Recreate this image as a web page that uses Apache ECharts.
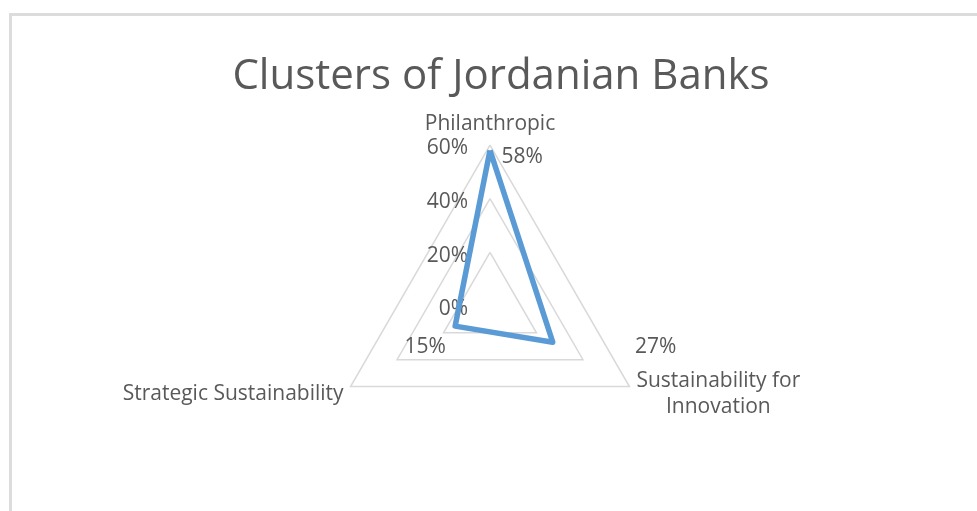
<!DOCTYPE html>
<html>
<head>
<meta charset="utf-8">
<script src="https://cdn.jsdelivr.net/npm/echarts@6/dist/echarts.min.js"></script>
<style>
  html, body { margin: 0; padding: 0; background: #fff; }
  #chart { width: 977px; height: 511px; }
</style>
</head>
<body>
<div id="chart"></div>
<script>
// Cluster shares of Jordanian banks (percent)
const clusters = ['Philanthropic', 'Strategic Sustainability', 'Sustainability for\nInnovation'];
const shares = [58, 15, 27];
const scaleTicks = [0, 20, 40, 60];

// layout of the radar
const FONT = '"Open Sans", Lato, sans-serif';
const TEXT = '#595959';
const LABEL_SIZE = 21;
const CX = 490, CY = 306, R = 161;
const scaleMax = scaleTicks[scaleTicks.length - 1];
const scaleStep = scaleTicks[1] - scaleTicks[0];

// widest line of each cluster name, so multi-line names can be centred
const measureCtx = document.createElement('canvas').getContext('2d');
measureCtx.font = LABEL_SIZE + 'px ' + FONT;
const nameWidth = name => Math.ceil(Math.max.apply(null,
  name.split('\n').map(s => measureCtx.measureText(s).width)));

// where each value label sits relative to its vertex
const labelPlacement = [
  { position: 'right', distance: 11, offset: [0, 7] },
  { position: 'inside', offset: [-30, 21] },
  { position: 'inside', offset: [103, 5] }
];

const chart = echarts.init(document.getElementById('chart'), null, { renderer: 'canvas' });

const labelItems = clusters.map((c, k) => ({
  value: shares,
  symbol: 'circle',
  symbolSize: 1,
  itemStyle: { color: 'rgba(0,0,0,0)' },
  lineStyle: { opacity: 0 },
  label: Object.assign({
    show: true,
    color: TEXT,
    fontFamily: FONT,
    fontSize: LABEL_SIZE,
    formatter: p => (p.value === shares[k] ? p.value + '%' : '')
  }, labelPlacement[k])
}));

chart.setOption({
  animation: false,
  backgroundColor: '#fff',
  title: {
    text: 'Clusters of Jordanian Banks',
    left: 496,
    textAlign: 'center',
    top: 51,
    textStyle: { color: TEXT, fontFamily: FONT, fontSize: 42, fontWeight: 'normal' }
  },
  graphic: [{
    type: 'rect',
    shape: { x: 10.5, y: 14.5, width: 1200, height: 800 },
    style: { fill: 'none', stroke: '#dcdcdc', lineWidth: 3 },
    silent: true
  }],
  radar: {
    center: [CX, CY],
    radius: R,
    startAngle: 90,
    shape: 'polygon',
    splitNumber: scaleTicks.length - 1,
    indicator: clusters.map(name => ({ name: name, min: 0, max: scaleMax })),
    axisName: {
      color: TEXT,
      fontFamily: FONT,
      fontSize: LABEL_SIZE,
      padding: [8, 0, 0, 0],
      formatter: name => {
        const w = nameWidth(name);
        return name.split('\n').map(s => '{c' + w + '|' + s + '}').join('\n');
      },
      rich: Object.fromEntries(clusters.map(name => {
        const w = nameWidth(name);
        return ['c' + w, { width: w, align: 'center', color: TEXT, fontFamily: FONT, fontSize: LABEL_SIZE, lineHeight: 26 }];
      }))
    },
    nameGap: 8,
    axisLine: { show: false },
    axisTick: { show: false },
    axisLabel: { show: false },
    splitArea: { show: false },
    splitLine: { lineStyle: { color: '#d9d9d9', width: 1.5 } }
  },
  // value scale printed along the first spoke
  grid: { left: CX, top: CY - R, width: 1, height: R },
  xAxis: { type: 'value', show: false },
  yAxis: {
    type: 'value',
    min: 0,
    max: scaleMax,
    interval: scaleStep,
    axisLine: { show: false },
    axisTick: { show: false },
    splitLine: { show: false },
    axisLabel: {
      margin: 22,
      formatter: v => '{v|' + v + '%}',
      rich: { v: { color: TEXT, fontFamily: FONT, fontSize: LABEL_SIZE, padding: [7, 0, 0, 0] } }
    }
  },
  series: [{
    type: 'radar',
    symbol: 'none',
    lineStyle: { color: '#5b9bd5', width: 5.5, join: 'round' },
    data: [{ value: shares }].concat(labelItems)
  }]
});
</script>
</body>
</html>
